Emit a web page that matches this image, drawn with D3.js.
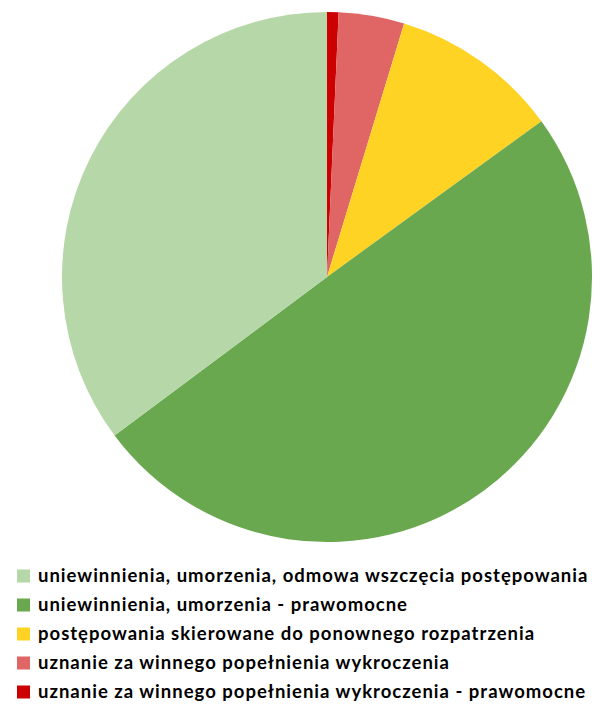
<!DOCTYPE html>
<html>
<head>
<meta charset="utf-8">
<script src="https://cdn.jsdelivr.net/npm/d3@7"></script>
<style>
  body { margin: 0; background: #fff; }
  text { font-family: Lato, "Open Sans", sans-serif; font-weight: bold; }
</style>
</head>
<body>
<div id="chart"></div>
<script>
// categories in legend order
var labels = [
  "uniewinnienia, umorzenia, odmowa wszczęcia postępowania",
  "uniewinnienia, umorzenia - prawomocne",
  "postępowania skierowane do ponownego rozpatrzenia",
  "uznanie za winnego popełnienia wykroczenia",
  "uznanie za winnego popełnienia wykroczenia - prawomocne"
];
// share of each category (%)
var values = [35.2, 49.8, 10.3, 4.0, 0.7];
var colors = ["#b6d7a8", "#6aa84f", "#ffd324", "#e06666", "#cc0000"];

// pie goes clockwise from 12 o'clock, starting with the last category
var drawOrder = [4, 3, 2, 1, 0];

var svgWidth = 601, svgHeight = 704;
var cx = 327, cy = 277, radius = 265;

var svg = d3.select("#chart").append("svg")
  .attr("width", svgWidth)
  .attr("height", svgHeight);

var pie = d3.pie()
  .sort(null)
  .value(function(i) { return values[i]; });

var arc = d3.arc().innerRadius(0).outerRadius(radius);

var pieGroup = svg.append("g")
  .attr("transform", `translate(${cx}, ${cy})`);

pieGroup.selectAll("path")
  .data(pie(drawOrder))
  .enter()
  .append("path")
  .attr("d", arc)
  .attr("fill", function(d) { return colors[d.data]; });

// legend
var legendY = d3.scalePoint()
  .domain(d3.range(labels.length))
  .range([576, 692]);

var legend = svg.append("g");

var rows = legend.selectAll("g")
  .data(labels)
  .enter()
  .append("g")
  .attr("transform", function(d, i) { return `translate(0, ${legendY(i)})`; });

rows.append("rect")
  .attr("x", 17)
  .attr("y", -6.5)
  .attr("width", 13)
  .attr("height", 13)
  .attr("fill", function(d, i) { return colors[i]; });

rows.append("text")
  .attr("x", 38)
  .attr("dy", "0.34em")
  .attr("font-size", 18.5)
  .attr("letter-spacing", 1)
  .attr("fill", "#000")
  .text(function(d) { return d; });
</script>
</body>
</html>
